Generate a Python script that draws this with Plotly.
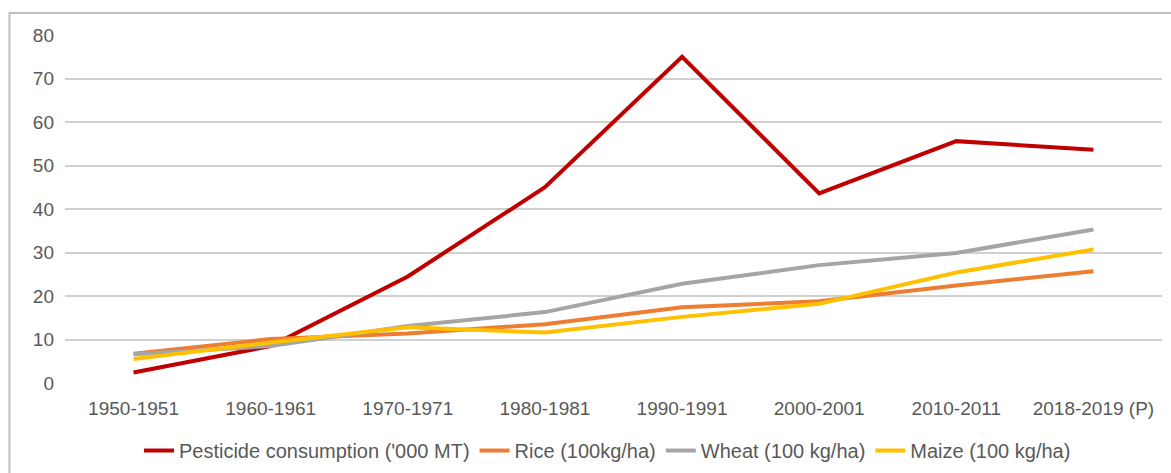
import plotly.graph_objects as go

# Crop years on the category axis
years = ["1950-1951", "1960-1961", "1970-1971", "1980-1981",
         "1990-1991", "2000-2001", "2010-2011", "2018-2019 (P)"]

# Series values
pesticide = [2.4, 8.5, 24.5, 45.0, 75.0, 43.6, 55.6, 53.6]
rice = [6.7, 10.1, 11.4, 13.5, 17.4, 18.8, 22.4, 25.7]
wheat = [6.6, 8.5, 13.1, 16.3, 22.8, 27.1, 29.9, 35.3]
maize = [5.5, 9.3, 12.8, 11.6, 15.2, 18.2, 25.4, 30.7]

series = [
    ("Pesticide consumption ('000 MT)", pesticide, "#C00000"),
    ("Rice (100kg/ha)", rice, "#ED7D31"),
    ("Wheat (100 kg/ha)", wheat, "#A5A5A5"),
    ("Maize (100 kg/ha)", maize, "#FFC000"),
]

FONT = "Liberation Sans, Arial, sans-serif"
TEXT = "#595959"

fig = go.Figure()
for name, vals, color in series:
    fig.add_trace(go.Scatter(
        x=years, y=vals, name=name, mode="lines",
        line=dict(color=color, width=4),
    ))

fig.update_layout(
    width=1171, height=473,
    margin=dict(l=65, r=9, t=35, b=90, autoexpand=False),
    paper_bgcolor="white", plot_bgcolor="white",
    font=dict(family=FONT, size=19, color=TEXT),
    showlegend=True,
    legend=dict(
        orientation="h", x=0.4945, xanchor="center", y=-0.138, yanchor="top",
        font=dict(family=FONT, size=20, color=TEXT),
        itemwidth=30, tracegroupgap=0,
    ),
    xaxis=dict(
        type="category", range=[-0.5, len(years) - 0.5], automargin=False,
        showgrid=False, zeroline=False, showline=False,
        ticks="", tickfont=dict(size=19, color=TEXT),
        ticklabelstandoff=12,
    ),
    yaxis=dict(
        range=[0, 80], dtick=10, showgrid=True, gridcolor="#D0D0D0",
        gridwidth=2, zeroline=False, showline=False, ticks="", automargin=False,
        tickfont=dict(size=19, color=TEXT), ticklabelstandoff=10,
    ),
    shapes=[dict(
        type="rect", xref="paper", yref="paper",
        x0=-0.0506, x1=1.05, y0=-0.4, y1=1.063,
        line=dict(color="#BFBFBF", width=2), fillcolor="rgba(0,0,0,0)",
        layer="below",
    )],
)

fig.write_html("out.html")
